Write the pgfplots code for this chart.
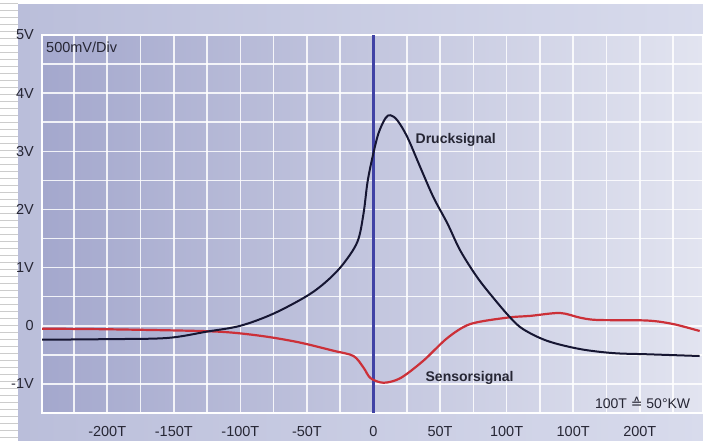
\documentclass[border=0pt]{standalone}
\usepackage{pgfplots}
\pgfplotsset{compat=1.18}
\usepackage{fontspec}
\setmainfont{Liberation Sans}
\newfontfamily\symfont{DejaVu Sans}

\definecolor{bgL}{RGB}{164,168,205}
\definecolor{bgR}{RGB}{226,228,240}
\definecolor{frL}{RGB}{186,190,218}
\definecolor{frR}{RGB}{216,219,236}
\definecolor{druck}{RGB}{22,22,50}
\definecolor{sensor}{RGB}{204,48,56}
\definecolor{zline}{RGB}{64,66,165}
\definecolor{txt}{RGB}{38,38,52}

\begin{document}
\begin{tikzpicture}[x=1pt,y=1pt]
\useasboundingbox (0,0) rectangle (703,441);
\fill[white] (0,0) rectangle (703,441);
\foreach \k in {0,...,62} \draw[black!20, line width=0.8pt] (0,{441-3-7*\k}) -- (18,{441-3-7*\k});
\shade[left color=frL, right color=frR] (18,0) rectangle (703,436);
\begin{axis}[
  at={(42pt,28pt)}, anchor=south west,
  width=661pt, height=378pt, scale only axis,
  xmin=-249, xmax=247.5, ymin=-1.5, ymax=5,
  axis background/.style={left color=bgL, right color=bgR},
  axis line style={white, line width=1.6pt},
  xtick={-200,-150,-100,-50,50,100,150,200},
  xticklabels={-200T,-150T,-100T,-50T,50T,100T,100T,200T},
  extra x ticks={0},
  extra x tick labels={0},
  extra x tick style={grid=none},
  minor xtick={-225,-175,-125,-75,-25,25,75,125,175,225},
  ytick={-1,0,1,2,3,4,5},
  yticklabels={-1V,0,1V,2V,3V,4V,5V},
  minor ytick={-0.5,0.5,1.5,2.5,3.5,4.5},
  grid=both,
  major grid style={white, line width=1.6pt, opacity=0.85},
  minor grid style={white, line width=1.6pt, opacity=0.85},
  tick style={draw=none},
  every tick label/.append style={font=\fontsize{14.5}{17}\selectfont, text=txt},
  xticklabel style={anchor=north, inner sep=0pt, yshift=-13pt},
  yticklabel style={anchor=east, inner sep=0pt, xshift=-8pt},
  clip=true,
]
\addplot[zline, line width=2.2pt] coordinates {(0,-1.5) (0,5)};
\addplot[sensor, line width=2.2pt, smooth, tension=0.5] coordinates {
(-250,-0.05) (-200,-0.06) (-130,-0.09) (-105,-0.12) (-79.5,-0.19) (-55,-0.29)
(-30,-0.43) (-15,-0.52) (-7.5,-0.72) (-2.25,-0.90) (7.5,-0.98) (20.25,-0.90)
(37.5,-0.60) (55.5,-0.21) (72.75,0.03) (100.5,0.14) (117.75,0.17) (140,0.22)
(155,0.14) (168,0.10) (205.5,0.09) (225,0.03) (245,-0.09)};
\addplot[druck, line width=2pt, smooth, tension=0.55] coordinates {
(-250,-0.24) (-200,-0.23) (-155,-0.21) (-125,-0.10) (-100,0.0) (-75,0.21)
(-49.5,0.52) (-34.5,0.78) (-22.5,1.07) (-12,1.45) (-7.5,1.93)
(-4.5,2.47) (-0.75,2.90) (3.75,3.31) (9,3.57) (12.75,3.62) (18,3.53)
(25.5,3.24) (35.25,2.72) (45,2.21) (55.5,1.76) (65.25,1.29) (78,0.83)
(90,0.48) (102.75,0.14) (112.5,-0.06) (130.5,-0.26) (155,-0.40) (180,-0.47)
(205.5,-0.49) (245,-0.52)};
\node[anchor=west, inner sep=0pt, text=txt, font=\fontsize{14.5}{17}\selectfont] at (axis cs:-246,4.79) {500mV/Div};
\node[anchor=west, inner sep=0pt, text=txt, font=\bfseries\fontsize{14}{17}\selectfont] at (axis cs:31.5,3.19) {Drucksignal};
\node[anchor=west, inner sep=0pt, text=txt, font=\bfseries\fontsize{14}{17}\selectfont] at (axis cs:39,-0.9) {Sensorsignal};
\node[anchor=east, inner sep=0pt, text=txt, font=\fontsize{14}{17}\selectfont] at (axis cs:238,-1.33) {100T {\symfont ≙} 50°KW};
\end{axis}
\end{tikzpicture}
\end{document}
